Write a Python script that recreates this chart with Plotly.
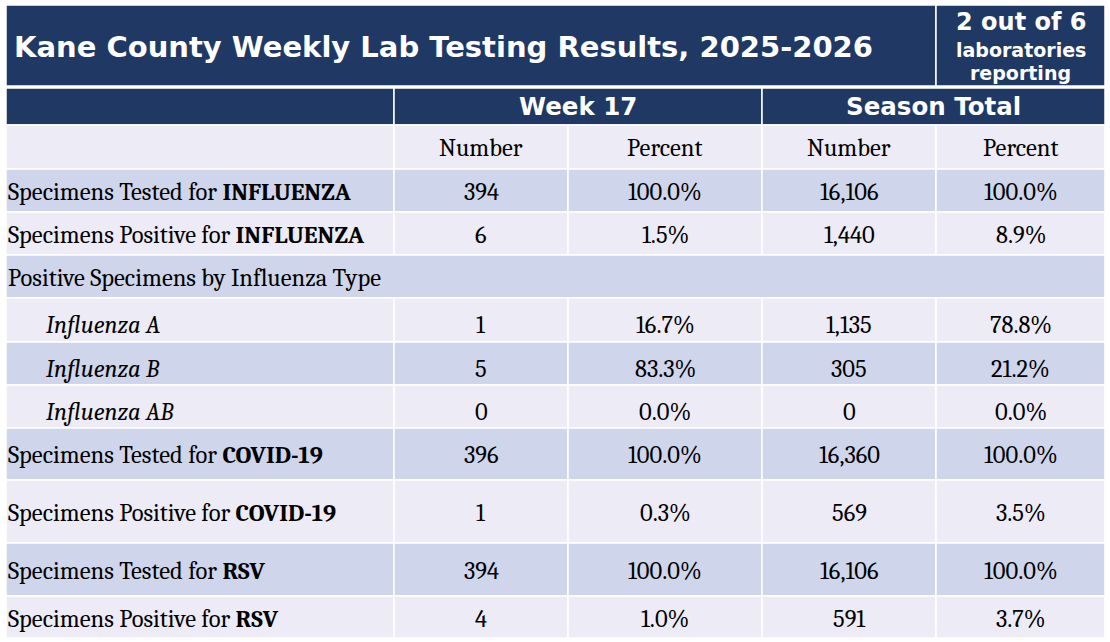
import plotly.graph_objects as go

# table content
title = "Kane County Weekly Lab Testing Results, 2025-2026"
labs_note = ["2 out of 6", "laboratories", "reporting"]
group_headers = ["Week 17", "Season Total"]
sub_headers = ["Number", "Percent", "Number", "Percent"]

row_labels = [
    "Specimens Tested for <b>INFLUENZA</b>",
    "Specimens Positive for <b>INFLUENZA</b>",
    "Positive Specimens by Influenza Type",
    "<i>Influenza A</i>",
    "<i>Influenza B</i>",
    "<i>Influenza AB</i>",
    "Specimens Tested for <b>COVID-19</b>",
    "Specimens Positive for <b>COVID-19</b>",
    "Specimens Tested for <b>RSV</b>",
    "Specimens Positive for <b>RSV</b>",
]
week_number = ["394", "6", "", "1", "5", "0", "396", "1", "394", "4"]
week_percent = ["100.0%", "1.5%", "", "16.7%", "83.3%", "0.0%", "100.0%", "0.3%", "100.0%", "1.0%"]
season_number = ["16,106", "1,440", "", "1,135", "305", "0", "16,360", "569", "16,106", "591"]
season_percent = ["100.0%", "8.9%", "", "78.8%", "21.2%", "0.0%", "100.0%", "3.5%", "100.0%", "3.7%"]
indented = [False, False, False, True, True, True, False, False, False, False]

# geometry (pixels, y grows downward)
W, H = 1110, 642
col_edges = [6, 394, 568, 762, 936, 1105]
title_top, title_bot = 5, 86
head_top, head_bot = 88, 125
sub_bot = 169
row_edges = [169, 212, 255, 298, 342, 385, 428, 480, 543, 596, 638]
text_drop = [1, 1, 1, 5, 5, 5, 1, 1, 1, 2]

NAVY = "#203864"
DARK_BAND = "#CFD5EA"
LIGHT_BAND = "#EDEBF5"
SERIF = "Cambria, Liberation Serif, serif"
SANS = "Verdana, DejaVu Sans, sans-serif"
BODY = 24.5

fig = go.Figure()
shapes = []
annotations = []


def cell(x0, y0, x1, y1, color):
    shapes.append(dict(type="rect", xref="x", yref="y", x0=x0, x1=x1, y0=y0, y1=y1,
                       fillcolor=color, line=dict(color="white", width=1.5), layer="below"))


def text(x, y, s, size, family, color="black", bold=False, xanchor="center"):
    annotations.append(dict(x=x, y=y, xref="x", yref="y", text=f"<b>{s}</b>" if bold else s,
                            showarrow=False, xanchor=xanchor, yanchor="middle",
                            font=dict(size=size, family=family, color=color)))


# title band
cell(col_edges[0], title_top, col_edges[4], title_bot, NAVY)
cell(col_edges[4], title_top, col_edges[5], title_bot, NAVY)
text(12, (title_top + title_bot) / 2 + 1, title, 29, SANS, "white", True, "left")
note_x = (col_edges[4] + col_edges[5]) / 2
text(note_x, 22, labs_note[0], 24, SANS, "white", True)
text(note_x, 50, labs_note[1], 19, SANS, "white", True)
text(note_x, 73, labs_note[2], 19, SANS, "white", True)

# group header row
cell(col_edges[0], head_top, col_edges[1], head_bot, NAVY)
for i, g in enumerate(group_headers):
    x0, x1 = col_edges[1 + 2 * i], col_edges[3 + 2 * i]
    cell(x0, head_top, x1, head_bot, NAVY)
    text((x0 + x1) / 2, (head_top + head_bot) / 2, g, 24.5, SANS, "white", True)

# sub header row
cell(col_edges[0], head_bot, col_edges[1], sub_bot, LIGHT_BAND)
for i, s in enumerate(sub_headers):
    x0, x1 = col_edges[1 + i], col_edges[2 + i]
    cell(x0, head_bot, x1, sub_bot, LIGHT_BAND)
    text((x0 + x1) / 2, (head_bot + sub_bot) / 2 + 1, s, BODY, SERIF)

# body rows
columns = [week_number, week_percent, season_number, season_percent]
for r, label in enumerate(row_labels):
    y0, y1 = row_edges[r], row_edges[r + 1]
    color = DARK_BAND if r % 2 == 0 else LIGHT_BAND
    yc = (y0 + y1) / 2 + text_drop[r]
    if all(col[r] == "" for col in columns):
        cell(col_edges[0], y0, col_edges[5], y1, color)
    else:
        for c in range(5):
            cell(col_edges[c], y0, col_edges[c + 1], y1, color)
        for c, col in enumerate(columns):
            text((col_edges[c + 1] + col_edges[c + 2]) / 2, yc, col[r], BODY, SERIF)
    text(44 if indented[r] else 6, yc, label, BODY, SERIF, xanchor="left")

fig.update_layout(
    width=W, height=H,
    margin=dict(t=0, l=0, r=0, b=0),
    paper_bgcolor="white",
    plot_bgcolor="white",
    xaxis=dict(range=[0, W], visible=False, fixedrange=True),
    yaxis=dict(range=[H, 0], visible=False, fixedrange=True),
    shapes=shapes,
    annotations=annotations,
    showlegend=False,
)
# page body has a default 8px margin; drop it so the figure fills the window
fig.write_html("out.html", config={"displayModeBar": False},
               post_script="document.body.style.margin='0';")
